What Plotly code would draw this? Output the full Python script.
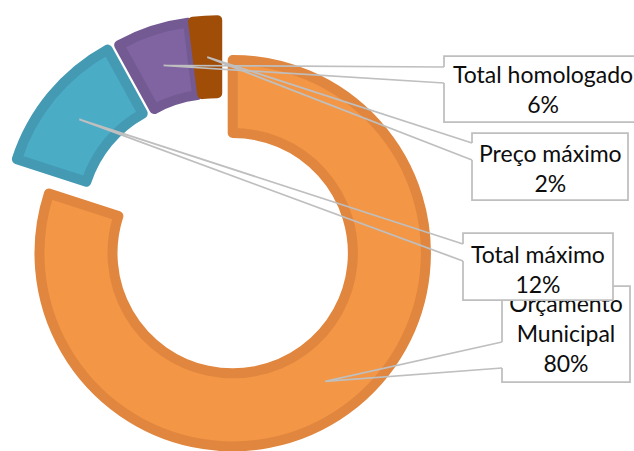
import math
import plotly.graph_objects as go

# ---- data ----
labels = ["Orçamento Municipal", "Total máximo", "Total homologado", "Preço máximo"]
values = [80, 12, 6, 2]
pct_text = ["80%", "12%", "6%", "2%"]

# ---- style / layout constants ----
W, H = 634, 451
fills = ["#F39646", "#4BACC6", "#8064A2", "#A04D08"]
borders = ["#E0863E", "#4499B3", "#735A93", "#A04D08"]
pulls = [0.125, 0.12, 0.105, 0.105]
HOLE = 0.622
R = 194.0              # pie radius (px)
CX, CY = 218.5, 234.5  # pie centre (px)
LW = 10
FONT = "Lato"
FS = 23
LINE_C = "#BFBFBF"
LINE_W = 1.75

maxpull = max(pulls)
box = R * (2 + 2 * maxpull)
half = min(box / 2, CX)
dom_x = [max(0.0, (CX - half) / W), (CX + half) / W]
cy_up = H - CY
dom_y = [max(0.0, (cy_up - box / 2) / H), min(1.0, (cy_up + box / 2) / H)]

fig = go.Figure()

fig.add_trace(go.Pie(
    labels=labels, values=values, sort=False, direction="clockwise", rotation=0,
    hole=HOLE, pull=pulls, textinfo="none", hoverinfo="skip",
    marker=dict(colors=fills, line=dict(color=borders, width=LW)),
    domain=dict(x=dom_x, y=dom_y), showlegend=False,
))

# callout boxes: x0, x1, y0, y1, join_top, join_bottom, text centre x, text centre y
boxes = {
    "Orçamento Municipal": (502, 630, 286, 382, 342, 368, 566, 336),
    "Total máximo": (463, 613, 233, 300, 244, 261, 538, 269),
    "Total homologado": (444, 645, 56, 122, 67, 83, 543, 89),
    "Preço máximo": (472, 628, 133, 200, 143, 160, 550, 168),
}

total = sum(values)
cum = 0.0
apex = {}
rmid = (R + R * HOLE) / 2
for lab, v, p in zip(labels, values, pulls):
    th = 2 * math.pi * (cum + v / 2) / total
    d = (math.sin(th), -math.cos(th))
    dist = p * R + rmid
    apex[lab] = (CX + dist * d[0], CY + dist * d[1])
    cum += v


def add_callout(lab, layer_box, layer_wedge):
    x0, x1, y0, y1, j1, j2, _, _ = boxes[lab]
    ax, ay = apex[lab]
    fig.add_shape(type="rect", xref="x", yref="y", x0=x0, x1=x1, y0=y0, y1=y1,
                  fillcolor="white", line=dict(width=0), layer=layer_box)
    outline = f"M {x0},{j1} L {x0},{y0} L {x1},{y0} L {x1},{y1} L {x0},{y1} L {x0},{j2}"
    fig.add_shape(type="path", xref="x", yref="y", path=outline,
                  line=dict(color=LINE_C, width=LINE_W), layer=layer_box)
    wedge = f"M {x0},{j1} L {ax:.1f},{ay:.1f} L {x0},{j2}"
    fig.add_shape(type="path", xref="x", yref="y", path=wedge,
                  line=dict(color=LINE_C, width=LINE_W), layer=layer_wedge)


# Orçamento box below (its text is a trace, so later boxes can cover it)
add_callout("Orçamento Municipal", "below", "above")
om = boxes["Orçamento Municipal"]
fig.add_trace(go.Scatter(
    x=[om[6]], y=[om[7]], mode="text",
    text=["Orçamento<br>Municipal<br>" + pct_text[0]],
    textposition="middle center", hoverinfo="skip", showlegend=False,
    textfont=dict(family=FONT, size=FS, color="#0D0D0D"), cliponaxis=False,
))

for i, lab in enumerate(labels[1:], start=1):
    add_callout(lab, "above", "above")

for i, lab in enumerate(labels[1:], start=1):
    b = boxes[lab]
    fig.add_annotation(x=b[6], y=b[7], xref="x", yref="y", showarrow=False,
                       text=f"{lab}<br>{pct_text[i]}", align="center",
                       font=dict(family=FONT, size=FS, color="#0D0D0D"))

fig.update_xaxes(range=[0, W], visible=False, fixedrange=True)
fig.update_yaxes(range=[H, 0], visible=False, fixedrange=True)
fig.update_layout(
    width=W, height=H, margin=dict(l=0, r=0, t=0, b=0),
    paper_bgcolor="white", plot_bgcolor="white", showlegend=False,
)

fig.write_html("out.html")
